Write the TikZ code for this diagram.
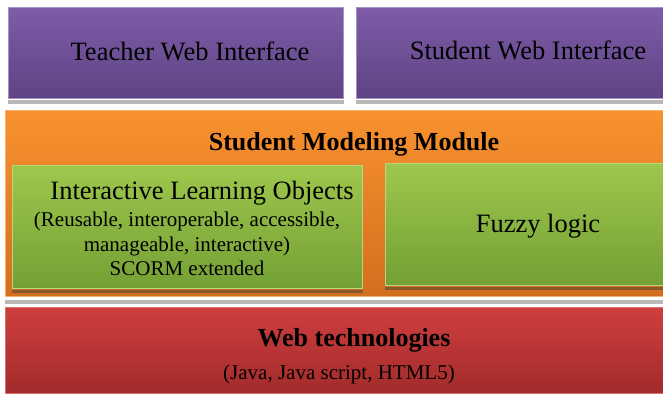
\documentclass[tikz,border=0pt]{standalone}
\usepackage{fontspec}
\setmainfont{Liberation Serif}
\usetikzlibrary{positioning}

\definecolor{purpletop}{HTML}{7E5CA8}
\definecolor{purplebot}{HTML}{5D4483}
\definecolor{purpleedge}{HTML}{A591C8}
\definecolor{orangetop}{HTML}{F8922F}
\definecolor{orangebot}{HTML}{D36E1E}
\definecolor{orangeedge}{HTML}{FAB270}
\definecolor{greentop}{HTML}{9EC74C}
\definecolor{greenbot}{HTML}{74A035}
\definecolor{greenedge}{HTML}{B7D77E}
\definecolor{redtop}{HTML}{CF3E3E}
\definecolor{redbot}{HTML}{A22B2B}
\definecolor{rededge}{HTML}{DB7070}

\begin{document}
\begin{tikzpicture}[
        x=1pt, y=-1pt,
        layer/.style={anchor=north west, inner sep=0pt, line width=0.8pt},
        webbox/.style={layer, draw=purpleedge, top color=purpletop, bottom color=purplebot},
        modbox/.style={layer, draw=orangeedge, top color=orangetop, bottom color=orangebot},
        partbox/.style={layer, draw=greenedge, top color=greentop, bottom color=greenbot},
        techbox/.style={layer, draw=rededge, top color=redtop, bottom color=redbot},
        greystrip/.style={fill=black!28},
        brownstrip/.style={fill=brown!70!black},
        big/.style={font=\fontsize{26.5}{30}\selectfont, anchor=base, inner sep=0pt},
        small/.style={font=\fontsize{21}{24.5}\selectfont, align=center, inner sep=0pt}
    ]

    \useasboundingbox (0,0) rectangle (663,394);

    % Web interfaces
    \node[webbox, minimum width=335pt, minimum height=91pt] (teacherbox) at (8,7) {};
    \node[webbox, minimum width=307pt, minimum height=91pt] (studentbox) at (356,7) {};
    \fill[greystrip] ([yshift=-1.5pt]teacherbox.south west) rectangle ([yshift=-5pt]teacherbox.south east);
    \fill[greystrip] ([yshift=-1.5pt]studentbox.south west) rectangle ([yshift=-5pt]studentbox.south east);
    \node[big] (teacher) at (190,60) {Teacher Web Interface};
    \node[big] (student) at (528,59) {Student Web Interface};

    % Student modeling module
    \node[modbox, minimum width=658pt, minimum height=186pt] (modulebox) at (5,110) {};
    \fill[greystrip] ([yshift=-3.5pt]modulebox.south west) rectangle ([yshift=-7pt]modulebox.south east);
    \node[big, font=\fontsize{26}{30}\selectfont\bfseries] (module) at (354,150) {Student Modeling Module};

    \node[partbox, minimum width=350pt, minimum height=123pt] (lobox) at (12,165) {};
    \node[partbox, minimum width=278pt, minimum height=122pt] (fuzzybox) at (385,163) {};
    \fill[brownstrip] ([yshift=-1pt]lobox.south west) rectangle ([yshift=-4.5pt]lobox.south east);
    \fill[brownstrip] ([yshift=-1pt]fuzzybox.south west) rectangle ([yshift=-4pt]fuzzybox.south east);

    \node[big] (lotitle) at (202,199) {Interactive Learning Objects};
    \node[small] (lotext) at (187,244) {(Reusable, interoperable, accessible,\\ manageable, interactive)\\ SCORM extended};
    \node[big] (fuzzy) at (538,232) {Fuzzy logic};

    % Web technologies
    \node[techbox, minimum width=658pt, minimum height=86pt] (techbox) at (5,307) {};
    \node[big, font=\fontsize{26}{30}\selectfont\bfseries] (tech) at (354,346) {Web technologies};
    \node[small, anchor=base] (techlist) at (339,379) {(Java, Java script, HTML5)};

\end{tikzpicture}
\end{document}
